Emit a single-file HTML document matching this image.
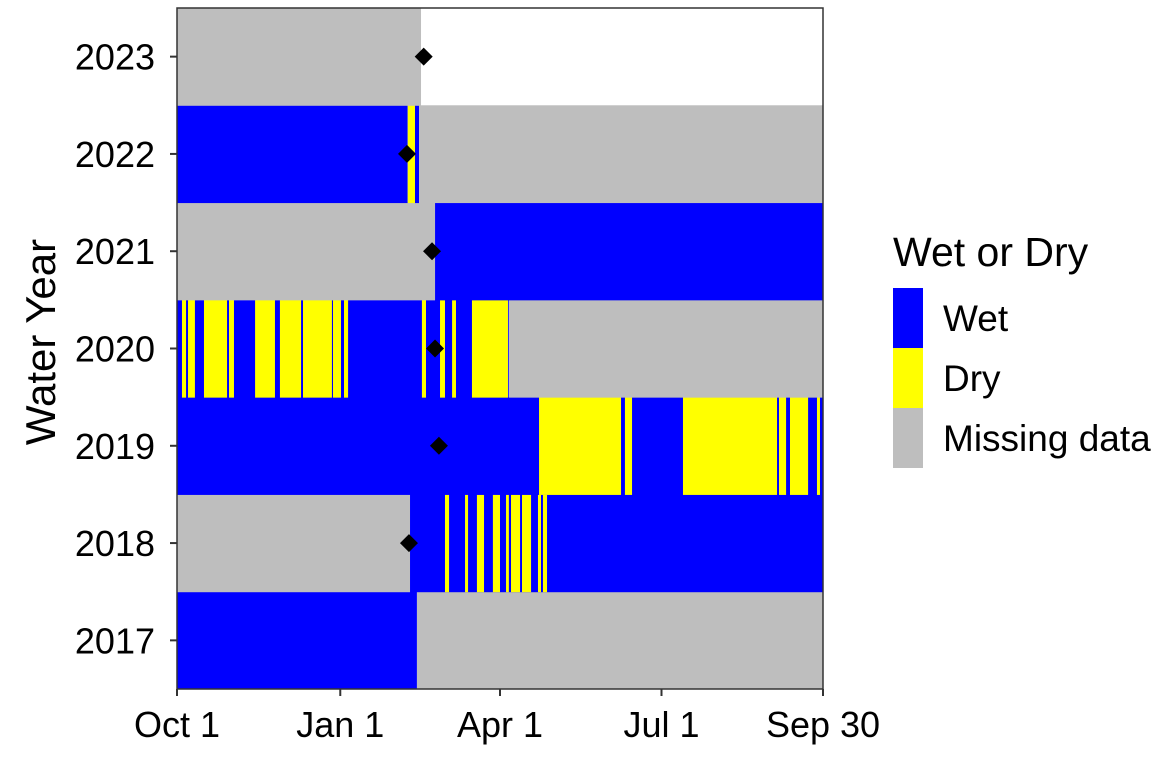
<!DOCTYPE html>
<html><head><meta charset="utf-8"><style>
html,body{margin:0;padding:0;background:#fff;}
svg{display:block;font-family:"Liberation Sans",Arial,sans-serif;}
</style></head><body>
<svg id="chart" width="1176" height="765" viewBox="0 0 1176 765">
<g id="plot"></g>
<g id="axes"></g>
<g id="legend"></g>
</svg>
<script>
const years = [2017, 2018, 2019, 2020, 2021, 2022, 2023];
// segments per year: [startDay, endDay, status] ; day 0 = Oct 1
const segs2017 = [[0,135.2,'wet'],[135.2,365,'missing']];
const segs2018 = [[0,131.3,'missing'],[131.3,365,'wet'],[151,153.3,'dry'],[162.3,164,'dry'],[169,173,'dry'],[178,182,'dry'],[185.4,187,'dry'],[188.2,193.3,'dry'],[194.4,199.5,'dry'],[203.4,205.1,'dry'],[206.2,208.5,'dry']];
const segs2019 = [[0,365,'wet'],[204,250.2,'dry'],[252.4,256.4,'dry'],[285.1,338.1,'dry'],[339.2,343.2,'dry'],[345.4,355.6,'dry'],[360.6,362.3,'dry']];
const segs2020 = [[0,187,'wet'],[187,365,'missing'],[2.8,5.1,'dry'],[6.2,10.1,'dry'],[15.2,28.2,'dry'],[29.3,32.1,'dry'],[44,55.2,'dry'],[58,69.9,'dry'],[71,87.3,'dry'],[87.9,92.4,'dry'],[94.1,96.4,'dry'],[138,140.3,'dry'],[148.2,151,'dry'],[155,157.2,'dry'],[166.2,186.5,'dry']];
const segs2021 = [[0,145.4,'missing'],[145.4,365,'wet']];
const segs2022 = [[0,130,'wet'],[130,134.1,'dry'],[134.1,136.4,'wet'],[136.4,365,'missing']];
const segs2023 = [[0,137.5,'missing']];
const segments = [segs2017, segs2018, segs2019, segs2020, segs2021, segs2022, segs2023];
const markerDays = [null, 130.7, 147.6, 145.4, 143.7, 129.6, 139];
const xTickDays = [0, 92, 182, 273, 364];
const xTickLabels = ['Oct 1', 'Jan 1', 'Apr 1', 'Jul 1', 'Sep 30'];
const statusLabels = ['Wet', 'Dry', 'Missing data'];
const statusKeys = ['wet', 'dry', 'missing'];

const colors = {wet:'#0000ff', dry:'#ffff00', missing:'#bebebe'};
const X0 = 177, X1 = 823, Y0 = 8, Y1 = 689;
const xs = d => X0 + d * (X1 - X0) / 364;
const bandH = (Y1 - Y0) / years.length;
const yTop = i => Y1 - (i + 1) * bandH;
const yc = i => yTop(i) + bandH / 2;
const NS = 'http://www.w3.org/2000/svg';
function mk(tag, attrs, parent){const e=document.createElementNS(NS,tag);for(const k in attrs)e.setAttribute(k,attrs[k]);parent.appendChild(e);return e;}
const plot = document.getElementById('plot'), axes = document.getElementById('axes'), legend = document.getElementById('legend');

segments.forEach((list, i) => {
  list.forEach(s => {
    const r = mk('rect', {x: xs(s[0]), y: yTop(i), width: Math.max(0, xs(Math.min(s[1],364)) - xs(s[0])), height: bandH + 0.5, fill: colors[s[2]]}, plot);
    
    
  });
});
markerDays.forEach((d, i) => {
  if (d === null) return;
  const x = xs(d), y = yc(i), r = 9;
  const p = mk('polygon', {points: `${x},${y-r} ${x+r},${y} ${x},${y+r} ${x-r},${y}`, fill: '#000'}, plot);
  
  
});
const border = mk('rect', {x: X0, y: Y0, width: X1 - X0, height: Y1 - Y0, fill: 'none', stroke: '#333', 'stroke-width': 1.5}, axes);



years.forEach((yr, i) => {
  mk('line', {x1: X0 - 7, x2: X0, y1: yc(i), y2: yc(i), stroke: '#333', 'stroke-width': 2}, axes);
  const t = mk('text', {x: X0 - 22, y: yc(i) + 13, 'text-anchor': 'end', 'font-size': 36, fill: '#000'}, axes);
  t.textContent = yr;
  
  
});
xTickDays.forEach((d, i) => {
  mk('line', {x1: xs(d), x2: xs(d), y1: Y1, y2: Y1 + 7, stroke: '#333', 'stroke-width': 2}, axes);
  const t = mk('text', {x: xs(d), y: 737, 'text-anchor': 'middle', 'font-size': 36, fill: '#000'}, axes);
  t.textContent = xTickLabels[i];
  
  
});
const yt = mk('text', {x: 0, y: 0, transform: 'translate(55,342) rotate(-90)', 'text-anchor': 'middle', 'font-size': 42, fill: '#000'}, axes);
yt.textContent = 'Water Year';



const lt = mk('text', {x: 893, y: 266, 'font-size': 41, fill: '#000'}, legend);
lt.textContent = 'Wet or Dry';


statusKeys.forEach((k, i) => {
  const ky = 288 + i * 60;
  const r = mk('rect', {x: 893, y: ky, width: 30, height: 60, fill: colors[k]}, legend);
  
  
  const t = mk('text', {x: 943, y: ky + 43, 'font-size': 37, fill: '#000'}, legend);
  t.textContent = statusLabels[i];
  
  
});
</script>
</body></html>
